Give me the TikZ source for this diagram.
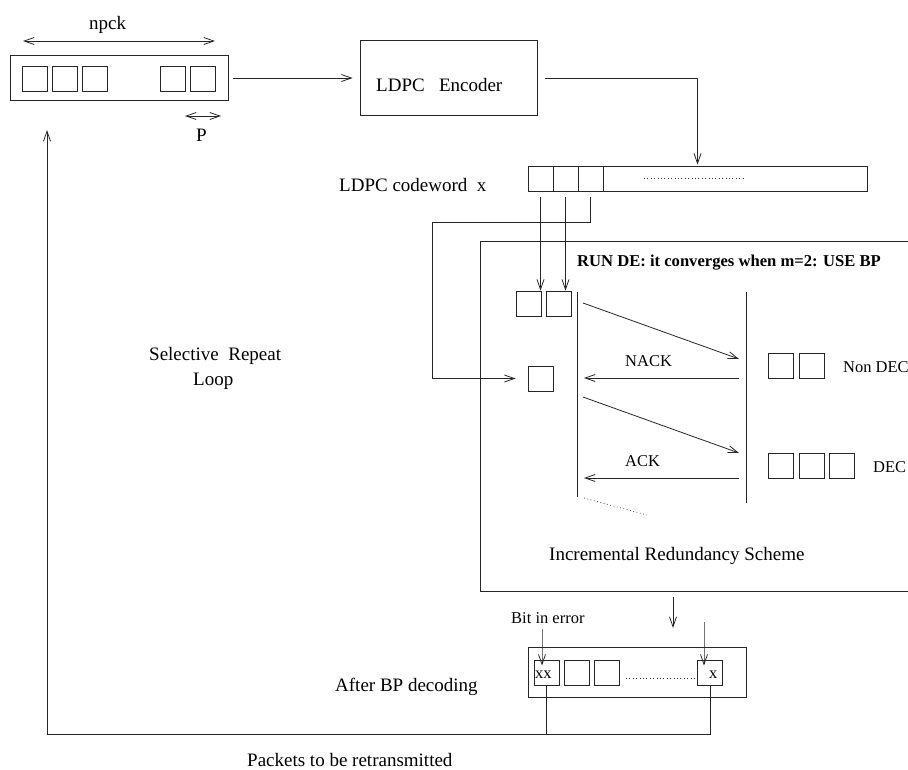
\documentclass[tikz,border=0pt]{standalone}
\usepackage{fontspec}
\setmainfont{Liberation Serif}
\usetikzlibrary{arrows.meta}

\tikzset{
  ln/.style={line width=0.8pt, draw=black!85},
  frame/.style={ln, draw, inner sep=0pt},
  cell/.style={frame, minimum width=25pt, minimum height=25pt},
  arr/.style={ln, -{Straight Barb[length=10pt,width=7pt]}},
  dbl/.style={ln, {Straight Barb[length=10pt,width=7pt]}-{Straight Barb[length=10pt,width=7pt]}},
  dots/.style={line width=0.7pt, dash pattern=on 0.8pt off 2.6pt, draw=black!80},
  big/.style={inner sep=0pt, anchor=base west, font=\fontsize{19}{22}\selectfont},
  small/.style={inner sep=0pt, anchor=base west, font=\fontsize{16.5}{20}\selectfont},
}

\begin{document}
\begin{tikzpicture}[x=1pt, y=-1pt]
\useasboundingbox (0,0) rectangle (908,769);

% ---- source packets ----
\node[frame, minimum width=218pt, minimum height=45pt] (src) at (119,78) {};
\foreach \i/\x in {1/34.5, 2/64.5, 3/94.5, 4/173, 5/203}
  \node[cell] (s\i) at (\x,78.5) {};
\coordinate (npckL) at (23,41);
\coordinate (npckR) at (215,41);
\draw[dbl] (npckL) -- (npckR);
\node[big] (npck) at (89,29) {npck};
\coordinate (pL) at (185,116);
\coordinate (pR) at (221,116);
\draw[dbl] (pL) -- (pR);
\node[big] (plabel) at (196,141) {P};

% ---- encoder ----
\node[frame, minimum width=177pt, minimum height=75pt] (enc) at (448.5,78) {};
\node[big] (enclabel) at (376,91) {LDPC\hspace{0.75em}Encoder};
\draw[arr] ([xshift=5pt]src.east) -- ([xshift=-7pt]enc.west);

% ---- codeword ----
\node[frame, minimum width=339pt, minimum height=25pt] (cw) at (697.5,178.5) {};
\foreach \i/\x in {1/540.5, 2/565.5, 3/590.5}
  \node[cell] (c\i) at (\x,178.5) {};
\coordinate (cwdotsL) at (644,178);
\coordinate (cwdotsR) at (743,178);
\draw[dots] (cwdotsL) -- (cwdotsR);
\node[big] (cwlabel) at (339,191) {LDPC codeword\hspace{0.5em}x};
\draw[arr] ([xshift=8pt]enc.east) -| ([yshift=1pt]cw.north);

% ---- incremental redundancy scheme ----
\node[frame, minimum width=460pt, minimum height=350pt, anchor=north west] (ir) at (480,241) {};
\node[inner sep=0pt, anchor=base west, font=\fontsize{16.6}{20}\selectfont\bfseries] (run) at (577,266)
  {RUN DE: it converges when m=2: USE BP};
\node[big] (irlabel) at (549,560) {Incremental Redundancy Scheme};

\node[cell] (a1) at (528.5,303.5) {};
\node[cell] (a2) at (558.5,303.5) {};
\node[cell] (b) at (540.5,378.5) {};
\draw[arr] ([yshift=-6pt]c1.south) -- (c1.south |- a1.north);
\draw[arr] ([yshift=-6pt]c2.south) -- (c2.south |- a2.north);
\coordinate (loopA) at (432,222);
\draw[arr] ([yshift=-6pt]c3.south) |- (loopA) |- ([xshift=-12pt]b.west);

% sender and receiver time lines
\coordinate (sndT) at (577,292);
\coordinate (sndB) at (577,497);
\coordinate (rcvT) at (746,292);
\coordinate (rcvB) at (746,503);
\draw[ln] (sndT) -- (sndB);
\draw[ln] (rcvT) -- (rcvB);

\coordinate (m1s) at (583,303);  \coordinate (m1e) at (739,359);
\coordinate (m2s) at (739,378);  \coordinate (m2e) at (584,378);
\coordinate (m3s) at (583,397);  \coordinate (m3e) at (739,453);
\coordinate (m4s) at (739,478);  \coordinate (m4e) at (584,478);
\draw[arr] (m1s) -- (m1e);
\draw[arr] (m2s) -- (m2e);
\draw[arr] (m3s) -- (m3e);
\draw[arr] (m4s) -- (m4e);
\node[small] (nack) at (625,366) {NACK};
\node[small] (ack) at (625,466) {ACK};
\coordinate (m5s) at (584,498);  \coordinate (m5e) at (647,515);
\draw[dots] (m5s) -- (m5e);

\node[cell] (n1) at (781,365.5) {};
\node[cell] (n2) at (811.5,365.5) {};
\node[small] (nondec) at (843,372) {Non DEC};
\node[cell] (d1) at (781,465.5) {};
\node[cell] (d2) at (811.5,465.5) {};
\node[cell] (d3) at (842,465.5) {};
\node[small] (dec) at (873,472) {DEC};

% ---- after BP decoding ----
\coordinate (downS) at (673,597);
\coordinate (downE) at (673,628);
\draw[arr] (downS) -- (downE);

\node[frame, minimum width=218pt, minimum height=50pt] (bp) at (637,672) {};
\node[cell] (e1) at (546.5,672.5) {};
\node[cell] (e2) at (576.5,672.5) {};
\node[cell] (e3) at (607,672.5) {};
\node[cell] (e4) at (710,672.5) {};
\node[small] (xx) at (535,678) {xx};
\node[small] (x1) at (709,678) {x};
\coordinate (bpdotsL) at (626,678);
\coordinate (bpdotsR) at (697,678);
\draw[dots] (bpdotsL) -- (bpdotsR);
\node[small] (biterr) at (511,623) {Bit in error};
\coordinate (err1) at (542,629);
\coordinate (err2) at (704,622);
\draw[arr] (err1) -- (err1 |- e1.north) -- ++(0,6);
\draw[arr] (err2) -- (err2 |- e4.north) -- ++(0,6);
\node[big] (bplabel) at (335,691) {After BP decoding};

% ---- retransmission loop ----
\coordinate (bl) at (47,734);
\coordinate (loopTip) at (47,130);
\draw[ln] (e4.south) |- (e1.south |- bl);
\draw[arr] (e1.south) |- (bl) -- (loopTip);
\node[big] (retx) at (247,766) {Packets to be retransmitted};
\node[big] (sel) at (149,360) {Selective\hspace{0.5em}Repeat};
\node[big] (loop) at (193,385) {Loop};
\end{tikzpicture}
\end{document}
